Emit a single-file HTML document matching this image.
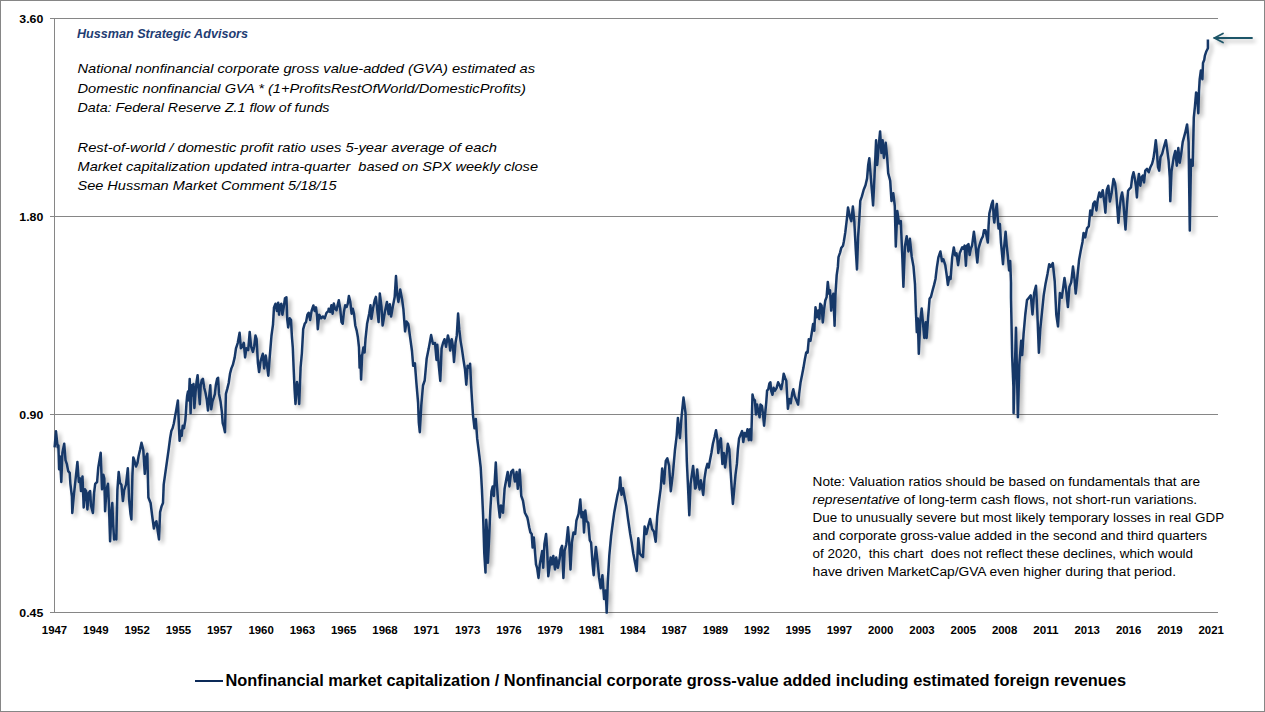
<!DOCTYPE html>
<html><head><meta charset="utf-8">
<style>
html,body{margin:0;padding:0;background:#fff;}
svg{display:block;}
text{font-family:"Liberation Sans",sans-serif;}
</style></head>
<body>
<svg width="1265" height="712" viewBox="0 0 1265 712">
<defs>
<filter id="sh" filterUnits="userSpaceOnUse" x="0" y="0" width="1265" height="712">
<feGaussianBlur in="SourceAlpha" stdDeviation="2.2"/>
<feOffset dx="3" dy="3" result="b"/>
<feComponentTransfer><feFuncA type="linear" slope="0.3"/></feComponentTransfer>
<feMerge><feMergeNode/><feMergeNode in="SourceGraphic"/></feMerge>
</filter>
</defs>
<rect x="0.5" y="0.5" width="1264" height="711" fill="#fff" stroke="#868686" stroke-width="1"/>
<g stroke="#868686" stroke-width="1" fill="none" shape-rendering="crispEdges">
<path d="M50,18.5H1218 M50,216.5H1218 M50,414.5H1218 M50,612.5H1218 M54.5,18V612"/>
</g>
<g font-size="11.3" font-weight="bold" fill="#000">
<text x="19.3" y="23" textLength="24" lengthAdjust="spacingAndGlyphs">3.60</text>
<text x="19.3" y="221" textLength="24" lengthAdjust="spacingAndGlyphs">1.80</text>
<text x="19.3" y="419" textLength="24" lengthAdjust="spacingAndGlyphs">0.90</text>
<text x="19.3" y="617" textLength="24" lengthAdjust="spacingAndGlyphs">0.45</text>
</g>
<g font-size="11.3" font-weight="bold" fill="#000"><text x="41.8" y="634" textLength="25.4" lengthAdjust="spacingAndGlyphs">1947</text><text x="83.1" y="634" textLength="25.4" lengthAdjust="spacingAndGlyphs">1949</text><text x="124.4" y="634" textLength="25.4" lengthAdjust="spacingAndGlyphs">1952</text><text x="165.7" y="634" textLength="25.4" lengthAdjust="spacingAndGlyphs">1955</text><text x="207.0" y="634" textLength="25.4" lengthAdjust="spacingAndGlyphs">1957</text><text x="248.4" y="634" textLength="25.4" lengthAdjust="spacingAndGlyphs">1960</text><text x="289.7" y="634" textLength="25.4" lengthAdjust="spacingAndGlyphs">1963</text><text x="331.0" y="634" textLength="25.4" lengthAdjust="spacingAndGlyphs">1965</text><text x="372.3" y="634" textLength="25.4" lengthAdjust="spacingAndGlyphs">1968</text><text x="413.6" y="634" textLength="25.4" lengthAdjust="spacingAndGlyphs">1971</text><text x="454.9" y="634" textLength="25.4" lengthAdjust="spacingAndGlyphs">1973</text><text x="496.2" y="634" textLength="25.4" lengthAdjust="spacingAndGlyphs">1976</text><text x="537.5" y="634" textLength="25.4" lengthAdjust="spacingAndGlyphs">1979</text><text x="578.8" y="634" textLength="25.4" lengthAdjust="spacingAndGlyphs">1981</text><text x="620.1" y="634" textLength="25.4" lengthAdjust="spacingAndGlyphs">1984</text><text x="661.5" y="634" textLength="25.4" lengthAdjust="spacingAndGlyphs">1987</text><text x="702.8" y="634" textLength="25.4" lengthAdjust="spacingAndGlyphs">1989</text><text x="744.1" y="634" textLength="25.4" lengthAdjust="spacingAndGlyphs">1992</text><text x="785.4" y="634" textLength="25.4" lengthAdjust="spacingAndGlyphs">1995</text><text x="826.7" y="634" textLength="25.4" lengthAdjust="spacingAndGlyphs">1997</text><text x="868.0" y="634" textLength="25.4" lengthAdjust="spacingAndGlyphs">2000</text><text x="909.3" y="634" textLength="25.4" lengthAdjust="spacingAndGlyphs">2003</text><text x="950.6" y="634" textLength="25.4" lengthAdjust="spacingAndGlyphs">2005</text><text x="991.9" y="634" textLength="25.4" lengthAdjust="spacingAndGlyphs">2008</text><text x="1033.2" y="634" textLength="25.4" lengthAdjust="spacingAndGlyphs">2011</text><text x="1074.5" y="634" textLength="25.4" lengthAdjust="spacingAndGlyphs">2013</text><text x="1115.9" y="634" textLength="25.4" lengthAdjust="spacingAndGlyphs">2016</text><text x="1157.2" y="634" textLength="25.4" lengthAdjust="spacingAndGlyphs">2019</text><text x="1198.5" y="634" textLength="25.4" lengthAdjust="spacingAndGlyphs">2021</text></g>
<path d="M54.6,447.4 L56.0,431.3 L56.9,440.1 L57.7,447.4 L58.4,445.5 L59.1,469.2 L60.0,456.5 L61.3,482.0 L62.4,452.8 L64.2,443.7 L65.5,460.1 L66.8,463.8 L68.2,471.1 L69.7,472.9 L70.4,483.8 L71.9,496.6 L72.3,513.0 L73.7,496.6 L75.5,480.2 L77.4,461.9 L78.8,482.0 L80.1,478.4 L81.0,491.1 L82.5,476.5 L83.7,507.5 L85.0,489.3 L86.1,491.1 L87.4,509.4 L88.7,493.0 L90.1,491.1 L91.0,505.7 L92.9,513.0 L94.1,493.0 L95.2,483.8 L97.1,482.0 L98.3,467.4 L100.7,452.8 L102.0,489.3 L103.3,474.7 L104.3,478.4 L105.1,511.2 L106.5,489.3 L108.0,483.8 L109.0,506.6 L110.1,541.3 L111.4,512.1 L112.3,503.0 L113.2,524.8 L114.1,539.4 L115.0,535.8 L116.3,539.4 L117.4,490.2 L118.7,471.9 L120.0,482.9 L121.4,484.7 L122.9,501.1 L124.2,490.2 L126.0,484.7 L127.8,468.3 L129.1,499.3 L130.5,513.9 L131.4,519.4 L132.4,475.6 L133.3,457.4 L134.5,461.0 L136.0,466.5 L137.5,462.8 L138.7,455.5 L140.0,450.1 L141.5,442.8 L143.3,450.1 L144.8,473.8 L146.0,457.4 L147.3,453.7 L148.4,497.5 L150.6,503.0 L152.4,517.5 L153.9,528.5 L155.2,523.0 L156.4,521.2 L157.9,532.1 L159.0,539.4 L160.1,512.1 L161.5,506.6 L163.0,503.0 L163.7,484.7 L168.8,448.4 L170.1,438.3 L171.4,430.7 L172.6,428.2 L173.9,423.2 L175.2,415.6 L176.4,409.3 L177.9,400.4 L178.9,425.7 L179.6,440.8 L180.8,430.7 L181.7,435.8 L182.7,425.7 L184.0,428.2 L185.3,420.6 L185.9,413.1 L186.5,402.9 L187.2,395.4 L188.0,391.6 L188.8,400.4 L189.7,378.9 L190.6,413.1 L191.6,385.3 L192.6,395.4 L193.5,384.0 L194.4,408.0 L195.6,391.6 L196.6,381.5 L197.6,375.2 L198.9,392.8 L199.8,404.2 L200.7,385.3 L201.7,380.2 L202.9,378.9 L204.2,387.8 L205.5,392.8 L206.7,399.2 L208.0,410.5 L209.3,395.4 L210.3,385.3 L211.2,409.3 L212.4,401.7 L213.7,397.9 L214.9,394.1 L215.8,385.3 L217.1,378.9 L218.1,377.7 L219.0,393.9 L220.5,401.2 L221.9,412.1 L222.7,423.1 L223.8,426.7 L225.0,432.2 L225.9,393.9 L227.4,388.4 L228.7,383.0 L230.0,373.8 L231.4,368.4 L232.9,364.7 L234.7,357.4 L236.0,348.3 L237.8,342.8 L239.6,332.8 L240.9,348.3 L242.4,346.5 L243.8,342.8 L245.1,357.4 L246.4,348.3 L248.2,350.1 L249.7,331.9 L251.1,346.5 L252.9,351.9 L254.2,346.5 L255.5,335.5 L256.6,339.2 L257.9,362.9 L259.1,372.0 L260.6,361.1 L262.8,353.8 L264.2,368.4 L265.7,355.6 L267.0,364.7 L268.3,375.7 L269.7,357.4 L271.5,335.5 L273.0,324.6 L274.0,307.4 L275.5,303.7 L276.9,311.0 L278.2,302.8 L279.1,314.7 L280.0,305.5 L281.3,303.7 L282.4,314.7 L283.7,307.4 L285.0,298.2 L286.4,297.3 L287.3,320.1 L288.2,327.4 L289.7,318.3 L291.0,320.1 L291.9,336.5 L292.8,347.5 L293.7,369.4 L294.6,389.4 L295.5,404.0 L297.0,382.1 L298.3,389.4 L299.2,404.0 L300.6,367.5 L301.9,353.0 L303.2,329.2 L304.7,323.8 L306.1,321.9 L307.4,314.7 L308.7,312.8 L310.1,320.1 L311.6,311.0 L313.4,305.5 L314.7,311.0 L316.0,307.4 L317.1,316.5 L317.8,329.2 L319.2,314.7 L321.1,318.3 L322.9,316.5 L324.7,318.3 L326.5,312.8 L328.4,311.0 L328.7,308.7 L330.1,312.0 L331.4,305.3 L332.6,313.7 L333.8,303.6 L335.1,308.7 L336.5,310.3 L337.6,305.3 L338.8,300.2 L340.2,308.7 L341.5,322.1 L342.7,323.8 L343.9,312.0 L345.2,305.3 L346.6,307.0 L347.8,303.6 L348.9,296.0 L350.3,301.9 L351.6,313.7 L352.8,308.7 L354.0,313.7 L355.3,325.5 L356.7,330.6 L357.9,337.3 L359.0,347.4 L359.6,367.6 L360.4,355.8 L361.1,379.4 L362.1,355.8 L363.4,347.4 L364.6,352.5 L365.5,339.0 L367.1,323.8 L369.2,313.7 L370.5,305.3 L371.4,318.8 L373.0,308.7 L374.7,300.2 L375.9,296.9 L377.3,310.3 L378.6,322.1 L379.8,293.5 L381.5,307.0 L382.6,325.5 L382.9,324.0 L384.9,311.7 L386.9,301.9 L388.6,314.2 L389.8,304.3 L391.1,316.6 L392.8,306.8 L394.7,297.0 L396.0,276.1 L397.2,294.5 L398.4,301.9 L400.2,289.6 L402.1,299.4 L403.4,309.2 L405.1,331.4 L406.5,321.5 L408.3,324.0 L410.0,336.3 L412.0,351.0 L413.2,365.8 L414.9,363.3 L416.4,383.0 L418.1,402.7 L418.8,422.3 L419.8,432.2 L421.3,405.1 L423.0,385.5 L424.7,380.5 L426.7,358.4 L428.7,348.6 L431.1,335.1 L432.9,343.7 L435.0,343.0 L436.5,360.0 L437.3,344.8 L438.8,365.7 L440.3,380.9 L441.6,348.6 L443.0,343.0 L444.5,339.2 L446.0,346.7 L447.9,335.4 L449.2,341.1 L450.2,350.5 L451.7,339.2 L453.0,346.7 L454.0,361.9 L455.5,343.0 L456.8,335.4 L458.1,313.5 L459.3,329.7 L460.6,341.1 L461.9,348.6 L463.5,360.0 L465.0,369.5 L466.3,384.7 L467.6,365.7 L469.2,367.6 L470.1,363.8 L471.1,384.7 L472.0,399.9 L473.0,415.1 L474.5,428.3 L475.8,418.9 L476.0,421.9 L477.2,438.7 L478.4,448.2 L479.6,457.8 L480.7,467.3 L481.9,488.8 L483.1,515.1 L484.3,553.3 L485.5,572.4 L486.2,519.8 L487.2,534.2 L487.9,562.8 L489.1,538.9 L490.3,510.3 L491.5,491.2 L492.7,486.4 L493.9,496.0 L495.8,462.5 L496.7,481.6 L498.2,503.1 L499.8,517.4 L501.0,505.5 L503.0,512.7 L504.6,488.8 L506.3,479.2 L507.7,472.1 L509.4,486.4 L511.1,472.1 L513.0,469.7 L514.9,481.6 L516.6,472.1 L517.8,488.8 L519.7,469.7 L521.3,496.0 L523.0,500.7 L524.9,512.7 L527.3,517.4 L528.0,520.6 L529.2,527.3 L530.4,532.4 L531.7,534.0 L532.6,547.5 L533.8,537.4 L534.8,549.2 L536.0,564.4 L537.1,567.8 L538.5,577.9 L539.8,564.4 L541.0,557.6 L542.2,550.9 L543.2,567.8 L544.4,544.2 L546.1,534.0 L547.2,550.9 L548.3,576.2 L549.4,567.8 L550.6,557.6 L552.0,564.4 L553.3,556.0 L555.0,569.4 L556.2,557.6 L557.9,567.8 L559.6,559.3 L560.7,549.2 L562.1,545.8 L563.4,577.9 L564.6,550.9 L566.3,544.2 L568.0,527.3 L569.2,542.5 L570.5,569.4 L571.9,542.5 L573.5,532.4 L575.2,534.0 L576.4,520.6 L578.6,513.8 L580.3,499.5 L581.5,517.2 L583.1,512.1 L584.0,532.4 L585.3,510.5 L586.5,520.6 L586.7,520.9 L588.3,523.0 L589.8,540.4 L591.1,542.6 L592.6,564.3 L593.7,575.2 L594.8,557.8 L595.9,547.0 L597.6,562.2 L599.1,577.4 L600.7,588.3 L602.4,575.2 L604.1,599.1 L605.7,590.4 L606.7,612.6 L607.8,581.7 L609.3,555.7 L611.1,536.1 L612.8,523.0 L614.3,512.2 L615.9,503.5 L617.6,494.8 L619.3,488.3 L620.2,477.4 L621.5,494.8 L623.0,488.3 L624.6,497.0 L626.3,505.7 L628.0,518.7 L630.2,533.9 L631.7,542.6 L633.3,553.5 L635.0,562.2 L636.7,570.9 L638.3,538.3 L639.8,553.5 L641.5,555.7 L643.0,556.9 L644.6,526.6 L646.3,534.1 L648.1,526.6 L650.1,519.0 L652.1,529.1 L653.9,531.6 L655.7,541.7 L657.2,516.4 L659.0,501.3 L660.7,488.6 L662.2,468.4 L664.0,483.6 L665.8,460.8 L667.3,458.3 L669.1,465.9 L670.8,491.2 L672.9,473.5 L674.9,450.7 L676.7,435.6 L677.9,417.9 L679.9,438.1 L681.7,415.3 L683.5,397.6 L685.5,412.8 L686.8,460.8 L688.0,486.1 L689.3,515.2 L690.6,483.6 L693.1,465.9 L695.1,488.6 L695.9,487.6 L697.2,469.4 L698.3,482.1 L699.6,489.4 L700.8,480.3 L701.9,485.8 L703.2,494.9 L704.5,478.5 L705.9,469.4 L707.4,463.9 L708.7,467.5 L710.0,460.2 L711.4,453.0 L712.9,443.8 L714.7,436.5 L716.0,430.2 L717.3,438.4 L718.3,453.0 L719.6,442.0 L720.9,438.4 L722.4,463.9 L723.8,453.0 L725.1,467.5 L726.4,456.6 L727.8,443.8 L729.3,449.3 L730.6,471.2 L731.8,489.4 L732.9,504.0 L734.2,489.4 L735.5,474.8 L736.9,463.9 L737.9,449.3 L739.1,438.4 L740.6,434.7 L742.1,431.1 L743.3,442.0 L744.6,432.9 L746.1,436.5 L747.5,429.2 L748.8,440.2 L750.1,429.2 L751.2,440.2 L751.9,416.5 L752.5,394.6 L753.5,399.0 L754.9,400.4 L755.9,414.5 L757.0,404.6 L758.1,410.3 L759.6,417.3 L760.5,404.6 L761.9,406.0 L762.9,413.1 L764.1,425.7 L765.2,413.1 L766.2,403.2 L767.1,390.6 L768.3,389.2 L769.4,383.6 L770.4,382.2 L771.1,390.6 L772.5,394.8 L773.6,387.8 L775.0,390.6 L776.7,387.8 L778.1,382.2 L779.5,385.0 L781.2,389.2 L782.6,382.2 L783.7,373.7 L785.1,377.9 L786.3,380.7 L787.2,396.2 L787.9,408.8 L789.3,399.0 L790.7,403.2 L792.2,393.4 L793.3,389.2 L794.7,396.2 L796.4,400.4 L798.1,404.6 L799.2,393.4 L800.6,382.2 L802.3,373.7 L803.4,368.1 L804.8,359.7 L806.2,352.6 L807.6,351.2 L807.6,352.7 L808.8,339.2 L810.5,340.9 L811.8,332.5 L813.1,324.0 L814.3,330.8 L815.5,307.2 L816.9,317.3 L818.2,310.6 L819.4,319.0 L820.2,303.8 L821.6,305.5 L822.8,322.4 L823.9,310.6 L825.3,300.5 L826.6,297.1 L827.8,281.9 L829.0,293.7 L830.0,290.3 L831.2,310.6 L832.0,298.8 L833.4,293.7 L834.6,325.7 L835.4,295.4 L836.7,275.2 L837.9,266.7 L838.5,257.1 L840.1,252.6 L841.2,248.1 L843.0,245.8 L843.9,241.3 L845.3,232.4 L846.9,218.9 L848.0,207.6 L849.8,216.6 L851.3,221.1 L852.9,206.5 L854.3,221.1 L855.8,250.3 L857.0,269.4 L858.1,236.9 L859.2,221.1 L860.3,200.9 L861.9,196.4 L863.7,189.7 L865.5,185.2 L867.1,178.4 L868.2,164.9 L869.3,158.2 L870.9,178.4 L872.2,194.2 L873.1,205.4 L874.5,176.2 L876.1,140.2 L877.2,164.9 L878.8,145.3 L880.1,131.4 L881.4,152.9 L882.6,140.2 L883.9,157.9 L885.7,142.8 L887.2,157.9 L888.2,173.1 L890.2,180.7 L891.5,200.9 L893.3,193.3 L894.8,205.9 L895.8,246.4 L897.3,211.0 L899.1,223.6 L900.8,221.1 L902.4,259.0 L903.4,286.8 L904.9,246.4 L906.7,236.3 L908.4,251.4 L909.9,238.8 L911.7,256.5 L913.5,266.6 L915.0,284.3 L915.8,308.5 L916.8,332.1 L917.8,318.4 L918.8,353.8 L920.3,320.3 L921.7,308.5 L923.1,324.3 L924.3,338.0 L925.7,322.3 L926.6,338.0 L928.2,316.4 L929.6,298.7 L931.0,296.7 L932.5,290.8 L934.1,284.9 L935.5,279.0 L936.9,267.2 L938.4,257.4 L940.4,251.5 L942.0,261.3 L943.4,259.3 L945.3,265.2 L946.7,275.1 L947.9,284.9 L949.3,277.1 L950.6,279.0 L952.2,257.4 L953.8,247.5 L955.2,255.4 L956.5,253.4 L958.1,265.2 L959.7,253.4 L962.1,247.5 L962.3,247.2 L963.4,248.7 L964.6,245.6 L965.9,265.7 L967.0,245.6 L968.5,244.1 L969.6,254.9 L970.8,248.7 L972.1,245.6 L973.9,231.7 L975.1,241.0 L976.2,251.8 L977.3,262.6 L978.5,248.7 L979.8,244.1 L981.3,239.5 L982.9,236.4 L984.0,230.2 L985.5,230.2 L986.6,236.4 L987.8,242.6 L988.6,225.5 L989.4,213.2 L990.6,208.5 L991.7,203.9 L992.8,200.8 L993.7,217.8 L994.3,222.5 L995.5,211.6 L996.8,203.9 L997.9,220.9 L998.6,228.6 L999.9,224.0 L1001.0,242.6 L1002.0,253.4 L1003.0,264.2 L1004.0,248.7 L1005.6,231.7 L1006.7,245.6 L1007.9,256.5 L1009.1,270.4 L1010.2,261.1 L1011.0,282.7 L1011.0,297.8 L1012.2,357.4 L1013.4,386.1 L1013.6,413.1 L1016.0,327.8 L1017.9,417.1 L1019.3,364.6 L1021.2,340.7 L1022.2,355.1 L1023.6,333.6 L1025.3,314.5 L1027.0,300.1 L1028.9,297.8 L1030.8,295.4 L1032.5,314.5 L1034.1,293.0 L1036.0,285.8 L1037.2,309.7 L1038.9,352.7 L1040.3,328.8 L1042.0,312.1 L1043.7,295.4 L1045.6,283.4 L1047.5,273.9 L1049.2,264.3 L1050.8,266.7 L1052.8,263.1 L1054.7,281.0 L1056.3,314.5 L1058.0,326.4 L1059.9,293.0 L1061.8,297.8 L1064.5,277.9 L1066.3,291.3 L1067.9,307.1 L1069.4,286.9 L1071.2,282.4 L1073.0,266.6 L1074.6,280.1 L1075.7,293.6 L1077.5,275.6 L1079.1,259.9 L1080.7,250.9 L1082.5,241.9 L1083.6,232.9 L1085.2,237.4 L1087.0,228.4 L1088.8,226.2 L1090.3,210.4 L1091.9,214.9 L1093.3,203.7 L1094.8,201.5 L1096.4,210.4 L1097.8,199.2 L1099.3,192.5 L1100.9,197.0 L1102.7,190.2 L1104.5,203.7 L1105.4,212.7 L1106.7,190.2 L1108.3,185.7 L1109.9,201.5 L1111.7,192.5 L1113.5,179.0 L1115.1,183.5 L1116.2,192.5 L1118.4,222.8 L1119.7,207.6 L1120.9,197.5 L1122.1,192.5 L1123.1,199.2 L1124.3,214.4 L1125.5,229.6 L1126.8,207.6 L1128.1,190.8 L1129.3,189.1 L1131.0,187.4 L1132.2,177.3 L1133.5,172.3 L1134.9,179.0 L1136.1,187.4 L1136.9,197.5 L1137.8,182.4 L1138.9,173.9 L1140.3,185.7 L1141.6,177.3 L1142.8,175.6 L1144.0,182.4 L1145.3,170.6 L1147.0,168.9 L1148.7,172.3 L1150.4,167.2 L1152.1,163.8 L1153.4,158.8 L1154.6,150.3 L1155.8,140.2 L1156.8,150.3 L1158.0,167.2 L1159.2,170.6 L1160.5,157.1 L1162.2,153.7 L1163.9,147.0 L1165.9,140.2 L1167.3,150.3 L1168.6,160.5 L1169.8,177.3 L1170.3,201.1 L1171.5,171.6 L1173.8,156.8 L1175.3,150.9 L1176.8,165.7 L1178.3,148.0 L1179.7,162.7 L1181.2,153.9 L1182.7,142.1 L1185.1,133.2 L1187.1,124.4 L1188.6,142.1 L1189.8,230.6 L1191.0,159.8 L1192.7,165.7 L1193.8,117.6 L1195.0,105.8 L1196.1,92.5 L1197.1,94.0 L1198.3,113.2 L1199.0,91.0 L1199.7,79.2 L1200.9,70.4 L1202.4,79.2 L1203.0,63.0 L1204.2,60.1 L1204.9,55.6 L1206.4,51.2 L1207.9,48.3 L1207.9,39.4" fill="none" stroke="#163768" stroke-width="2.5" stroke-linejoin="round" filter="url(#sh)"/>
<g fill="none" stroke="#1f5467" stroke-width="1.8" stroke-linecap="round" filter="url(#sh)">
<path d="M1214,38H1252 M1223,33.5L1214.5,38L1223,42.5"/>
</g>
<text x="77" y="38" font-size="12" font-weight="bold" font-style="italic" fill="#1f3d73" textLength="171" lengthAdjust="spacingAndGlyphs">Hussman Strategic Advisors</text>
<g font-size="13.3" font-style="italic" fill="#000">
<text x="77.5" y="73" textLength="457.5" lengthAdjust="spacingAndGlyphs">National nonfinancial corporate gross value-added (GVA) estimated as</text>
<text x="77.5" y="92.5" textLength="448.5" lengthAdjust="spacingAndGlyphs">Domestic nonfinancial GVA * (1+ProfitsRestOfWorld/DomesticProfits)</text>
<text x="77.5" y="111.8" textLength="252" lengthAdjust="spacingAndGlyphs">Data: Federal Reserve Z.1 flow of funds</text>
<text x="77.5" y="151.5" textLength="419.5" lengthAdjust="spacingAndGlyphs">Rest-of-world / domestic profit ratio uses 5-year average of each</text>
<text x="77.5" y="171" style="white-space:pre" textLength="460.5" lengthAdjust="spacingAndGlyphs">Market capitalization updated intra-quarter  based on SPX weekly close</text>
<text x="77.5" y="190.3" textLength="259" lengthAdjust="spacingAndGlyphs">See Hussman Market Comment 5/18/15</text>
</g>
<g font-size="12.5" fill="#000">
<text x="812.6" y="486" textLength="387.5" lengthAdjust="spacingAndGlyphs">Note: Valuation ratios should be based on fundamentals that are</text>
<text x="812.6" y="504" textLength="384.5" lengthAdjust="spacingAndGlyphs"><tspan font-style="italic">representative</tspan> of long-term cash flows, not short-run variations.</text>
<text x="812.6" y="522" textLength="411.5" lengthAdjust="spacingAndGlyphs">Due to unusually severe but most likely temporary losses in real GDP</text>
<text x="812.6" y="540" textLength="394.5" lengthAdjust="spacingAndGlyphs">and corporate gross-value added in the second and third quarters</text>
<text x="812.6" y="558" style="white-space:pre" textLength="380.5" lengthAdjust="spacingAndGlyphs">of 2020,  this chart  does not reflect these declines, which would</text>
<text x="812.6" y="575.7" textLength="363.5" lengthAdjust="spacingAndGlyphs">have driven MarketCap/GVA even higher during that period.</text>
</g>
<path d="M195,681H223" stroke="#0c2a58" stroke-width="2"/>
<text x="225.5" y="686" font-size="16.5" font-weight="bold" fill="#000" textLength="900.5" lengthAdjust="spacingAndGlyphs">Nonfinancial market capitalization / Nonfinancial corporate gross-value added including estimated foreign revenues</text>
</svg>
</body></html>
